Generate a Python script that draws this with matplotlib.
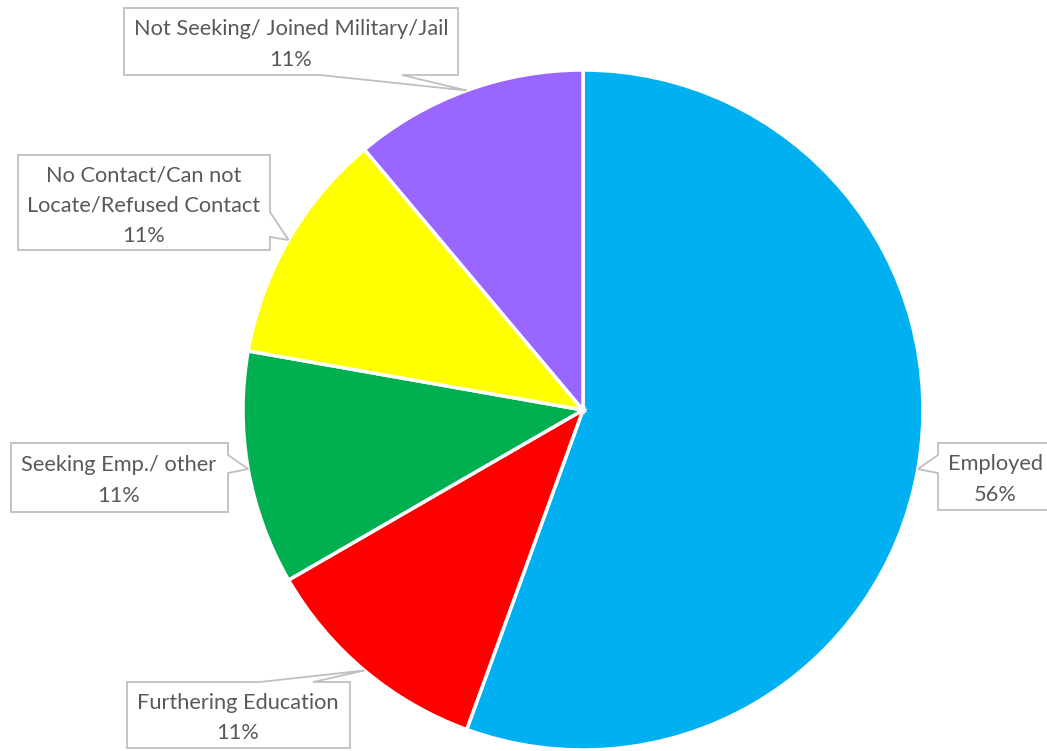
import numpy as np
import matplotlib
matplotlib.use("Agg")
from matplotlib import pyplot as plt
from matplotlib.patches import Polygon

labels = ["Employed", "Furthering Education", "Seeking Emp./ other",
          "No Contact/Can not\nLocate/Refused Contact",
          "Not Seeking/ Joined Military/Jail"]
values = [5, 1, 1, 1, 1]
pct_labels = ["56%", "11%", "11%", "11%", "11%"]
colors = ["#00B0F0", "#FF0000", "#00B050", "#FFFF00", "#9966FF"]

W, H = 1047, 751
cx, cy, R = 583, 410, 340   # pie centre/radius in pixels (y from top)

# callout boxes in pixels (x0, y0, x1, y1), side the pointer leaves from, base span, text centre x
boxes = [
    ((938, 443, 1060, 510), "left", (455, 473), 995),
    ((127, 682, 350, 748), "top", (260, 313), 238),
    ((11, 443, 228, 512), "right", (455, 473), 119),
    ((18, 155, 270, 250), "right", (212, 237), 144),
    ((124, 8, 458, 75), "bottom", (320, 402), 291),
]

fig = plt.figure(figsize=(W / 100, H / 100), dpi=100)
ax = fig.add_axes([0, 0, 1, 1])

wedges, _ = ax.pie(values, colors=colors, startangle=90, counterclock=False,
                   center=(cx, H - cy), radius=R, frame=True,
                   wedgeprops=dict(edgecolor="white", linewidth=2.5))
ax.set_xlim(0, W)
ax.set_ylim(0, H)
ax.set_aspect("equal")
ax.axis("off")


def fy(y):
    return H - y


for w, lab, pct, (box, side, base, tx) in zip(wedges, labels, pct_labels, boxes):
    # pointer tip sits on the rim at the middle of the slice
    mid = np.deg2rad((w.theta1 + w.theta2) / 2)
    tipx = cx + R * np.cos(mid)
    tipy = cy - R * np.sin(mid)
    x0, y0, x1, y1 = box
    b0, b1 = base
    if side == "bottom":
        pts = [(x0, y0), (x1, y0), (x1, y1), (b1, y1), (tipx, tipy), (b0, y1), (x0, y1)]
    elif side == "top":
        pts = [(x0, y0), (b0, y0), (tipx, tipy), (b1, y0), (x1, y0), (x1, y1), (x0, y1)]
    elif side == "right":
        pts = [(x0, y0), (x1, y0), (x1, b0), (tipx, tipy), (x1, b1), (x1, y1), (x0, y1)]
    else:
        pts = [(x0, y0), (x1, y0), (x1, y1), (x0, y1), (x0, b1), (tipx, tipy), (x0, b0)]
    poly = Polygon([(x, fy(y)) for x, y in pts], closed=True, facecolor="white",
                   edgecolor="#BFBFBF", linewidth=1.3, zorder=3)
    ax.add_patch(poly)
    ax.text(tx, fy((y0 + y1) / 2 + 3), lab + "\n" + pct, ha="center", va="center",
            fontsize=15.7, color="#595959", family="Lato", linespacing=1.65,
            zorder=4)

fig.savefig("out.png", dpi=100)
